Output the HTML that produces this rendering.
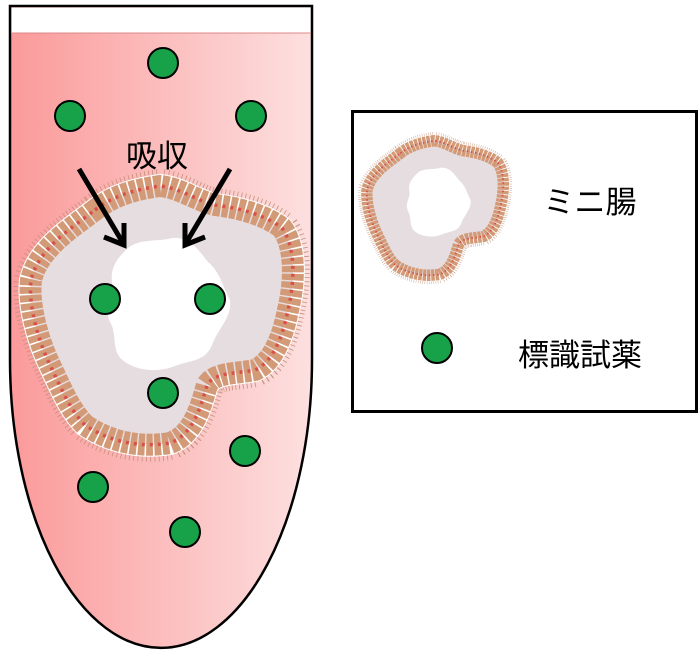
<!DOCTYPE html>
<html><head><meta charset="utf-8"><style>
html,body{margin:0;padding:0;background:#fff;width:700px;height:659px;overflow:hidden}
text{font-family:"Liberation Sans","Noto Sans CJK JP",sans-serif}
</style></head><body>
<svg width="700" height="659" viewBox="0 0 700 659" xmlns="http://www.w3.org/2000/svg">
<defs>
<linearGradient id="pk" x1="0" x2="1" y1="0" y2="0">
<stop offset="0" stop-color="#fb9a9a"/><stop offset="1" stop-color="#fde0e0"/>
</linearGradient>
<g id="org">
<path d="M95,210 C110,198 130,190 160,186 C180,188 195,200 215,205 C240,208 265,215 282,228 C298,250 293,290 288,310 C282,340 272,362 255,370 C235,374 215,372 207,385 C200,410 192,435 170,443 C140,448 110,442 85,425 C70,410 62,390 50,365 C38,340 28,305 31,280 C36,258 55,240 75,225 Z" fill="#e6dde0" stroke="#c4907a" stroke-width="34" stroke-dasharray="0.8 3"/>
<path d="M95,210 C110,198 130,190 160,186 C180,188 195,200 215,205 C240,208 265,215 282,228 C298,250 293,290 288,310 C282,340 272,362 255,370 C235,374 215,372 207,385 C200,410 192,435 170,443 C140,448 110,442 85,425 C70,410 62,390 50,365 C38,340 28,305 31,280 C36,258 55,240 75,225 Z" fill="#e6dde0" stroke="#fff" stroke-width="24"/>
<path d="M95,210 C110,198 130,190 160,186 C180,188 195,200 215,205 C240,208 265,215 282,228 C298,250 293,290 288,310 C282,340 272,362 255,370 C235,374 215,372 207,385 C200,410 192,435 170,443 C140,448 110,442 85,425 C70,410 62,390 50,365 C38,340 28,305 31,280 C36,258 55,240 75,225 Z" fill="#e6dde0" stroke="#d39a77" stroke-width="22" stroke-dasharray="6.5 1.5"/>
<path d="M95,210 C110,198 130,190 160,186 C180,188 195,200 215,205 C240,208 265,215 282,228 C298,250 293,290 288,310 C282,340 272,362 255,370 C235,374 215,372 207,385 C200,410 192,435 170,443 C140,448 110,442 85,425 C70,410 62,390 50,365 C38,340 28,305 31,280 C36,258 55,240 75,225 Z" fill="none" stroke="#d8504a" stroke-width="3.5" stroke-dasharray="3 5"/>
<path d="M128,248 C140,238 160,242 172,238 C190,236 200,252 208,262 C220,272 222,285 230,300 C232,318 218,328 212,345 C205,362 190,360 175,366 C160,372 140,372 125,362 C110,352 118,335 110,322 C102,305 116,296 112,282 C110,265 120,256 128,248 Z" fill="#fff"/>
</g>
</defs>
<path d="M10,6 H312 V360 A151,288 0 0 1 10,360 Z" fill="url(#pk)" stroke="#000" stroke-width="2.5"/>
<rect x="11.5" y="7.5" width="299" height="25" fill="#fff"/>
<line x1="11" y1="33" x2="311" y2="33" stroke="#d88" stroke-width="1"/>
<use href="#org"/>
<g fill="#17a24a" stroke="#000" stroke-width="2">
<circle cx="163" cy="63" r="15"/><circle cx="70" cy="116" r="15"/><circle cx="251" cy="116" r="15"/>
<circle cx="105" cy="299" r="15"/><circle cx="210" cy="299" r="15"/><circle cx="163" cy="393" r="15"/>
<circle cx="245" cy="451" r="15"/><circle cx="93" cy="487" r="15"/><circle cx="185" cy="532" r="15"/>
<circle cx="437" cy="348" r="15"/>
</g>
<g stroke="#000" stroke-width="5" fill="none" stroke-linecap="butt">
<line x1="79" y1="169" x2="123" y2="243"/><polyline points="104,237 124,245 124,223"/>
<line x1="230" y1="169" x2="186" y2="243"/><polyline points="205,237 185,245 185,223"/>
</g>
<text x="157" y="167" font-size="31" text-anchor="middle">吸収</text>
<rect x="352.5" y="111.5" width="344" height="300" fill="none" stroke="#000" stroke-width="3"/>
<g transform="translate(351,44) scale(0.52)"><use href="#org"/></g>
<text x="590" y="213" font-size="31" text-anchor="middle">ミニ腸</text>
<text x="580" y="366" font-size="31" text-anchor="middle">標識試薬</text>
</svg>
</body></html>
